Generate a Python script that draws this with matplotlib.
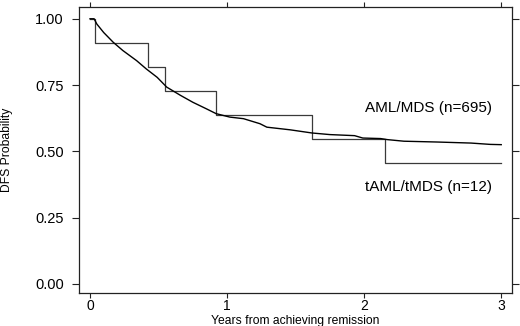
import numpy as np
import matplotlib.pyplot as plt
import matplotlib as mpl

mpl.rcParams['font.family'] = ['Liberation Sans', 'DejaVu Sans']

# AML/MDS (n=695) curve
aml_t = [0.0, 0.03, 0.05, 0.10, 0.17, 0.24, 0.34, 0.41, 0.49, 0.56, 0.66, 0.75,
         0.85, 0.92, 1.02, 1.12, 1.24, 1.29, 1.46, 1.62, 1.75, 1.93, 1.99, 2.12,
         2.17, 2.29, 2.53, 2.78, 2.92, 3.0]
aml_s = [1.0, 1.0, 0.98, 0.948, 0.911, 0.88, 0.842, 0.811, 0.779, 0.742, 0.711, 0.685,
         0.66, 0.642, 0.629, 0.623, 0.604, 0.591, 0.581, 0.569, 0.563, 0.559, 0.55, 0.548,
         0.544, 0.538, 0.535, 0.531, 0.526, 0.525]

# tAML/tMDS (n=12) step curve
taml_t = [0.0, 0.04, 0.42, 0.55, 0.92, 1.62, 2.15, 3.0]
taml_s = [1.0, 0.909, 0.818, 0.727, 0.636, 0.545, 0.455, 0.455]

xticks = [0, 1, 2, 3]
yticks = [0.0, 0.25, 0.5, 0.75, 1.0]
ytick_labels = ['0.00', '0.25', '0.50', '0.75', '1.00']

fig = plt.figure(figsize=(5.2, 3.26), dpi=100)
ax = fig.add_axes([0.152, 0.101, 0.833, 0.878])

ax.step(taml_t, taml_s, where='post', color='#3a3a3a', lw=0.9)
ax.plot(aml_t, aml_s, color='black', lw=1.0)

ax.text(2.93, 0.664, 'AML/MDS (n=695)', fontsize=11, ha='right', va='center')
ax.text(2.93, 0.366, 'tAML/tMDS (n=12)', fontsize=11, ha='right', va='center')

ax.set_xlim(-0.08, 3.08)
ax.set_ylim(-0.035, 1.045)
ax.set_xticks(xticks)
ax.set_yticks(yticks)
ax.set_yticklabels(ytick_labels)
ax.tick_params(direction='out', length=5, width=0.8, color='#222',
               top=True, right=True, labelsize=10.5)
ax.tick_params(axis='y', pad=6)
ax.tick_params(axis='x', length=3.5, pad=1, labelsize=10)
for s in ax.spines.values():
    s.set_linewidth(0.9)
    s.set_color('#222')

ax.set_xlabel('Years from achieving remission', fontsize=8.7)
ax.set_ylabel('DFS Probability', fontsize=8.7)
ax.xaxis.set_label_coords(0.5, -0.075)
ax.yaxis.set_label_coords(-0.152, 0.5)

fig.savefig('out.png', dpi=100)
